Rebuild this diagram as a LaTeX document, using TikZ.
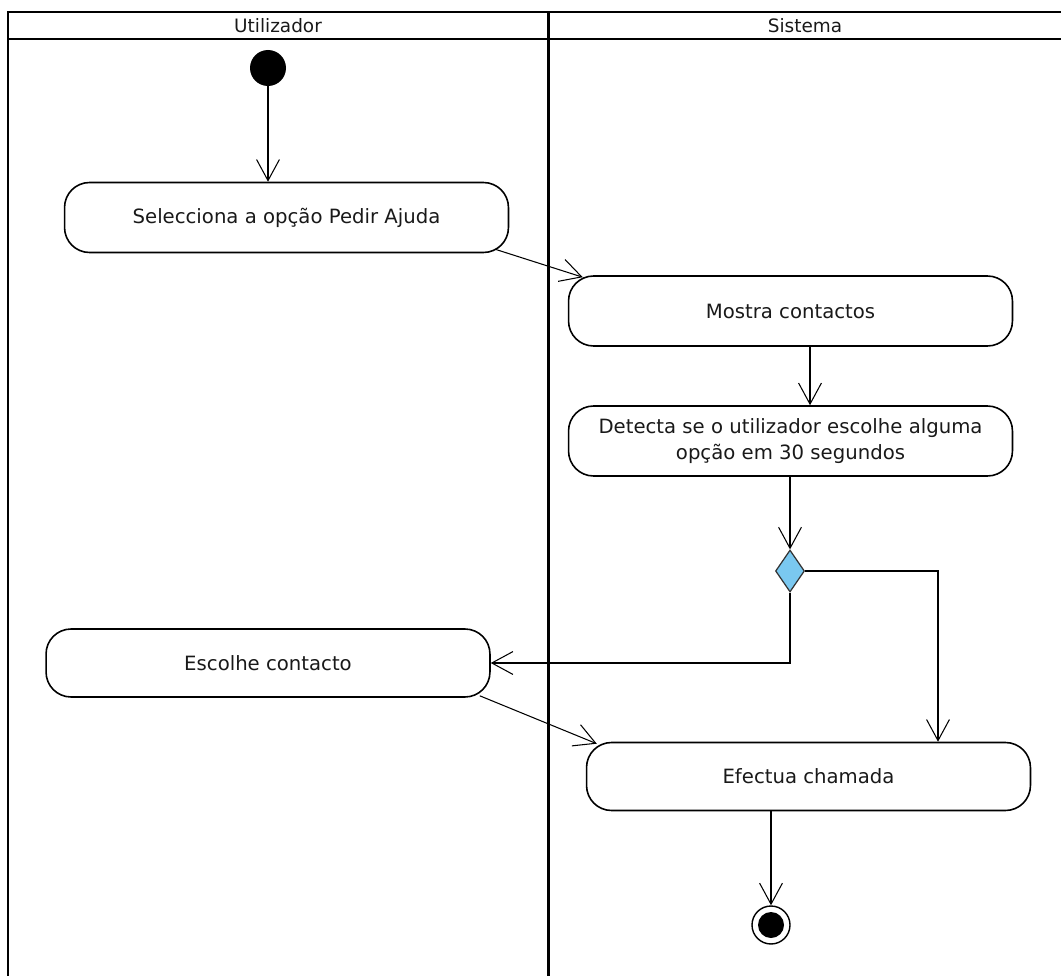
\documentclass[tikz,border=0pt]{standalone}
\usepackage{fontspec}
\setmainfont{DejaVu Sans}
\usetikzlibrary{arrows.meta,shapes.geometric,calc}
\definecolor{decfill}{RGB}{122,200,240}
\definecolor{txt}{RGB}{25,25,25}
\begin{document}
\begin{tikzpicture}[x=0.02cm,y=-0.02cm,
  lane/.style={line width=1.7pt},
  act/.style={draw, line width=0.9pt, rounded corners=0.5cm, align=center,
    minimum width=8.88cm, minimum height=1.4cm, inner sep=0pt,
    font=\fontsize{11.2}{15}\selectfont, text=txt},
  hdr/.style={font=\fontsize{10.5}{13}\selectfont, text=txt, inner sep=0pt},
  flow/.style={line width=0.6pt, -{Straight Barb[length=12pt,width=13pt,line width=0.6pt]}}]
% page frame
\path[use as bounding box] (0,0) rectangle (1061,976);

% swimlanes
\draw[lane] (1061,12) -- (8,12) -- (8,976);
\draw[lane] (8,39) -- (1061,39);
\draw[lane] (548,12) -- (548,976);
\node[hdr] (hU) at (278,26) {Utilizador};
\node[hdr] (hS) at (805,26) {Sistema};

% start and end
\node[circle, fill=black, minimum size=0.72cm, inner sep=0pt] (init) at (268,68) {};
\node[circle, draw, line width=0.8pt, minimum size=0.76cm, inner sep=0pt] (fin) at (771,925) {};
\fill (fin.center) circle[radius=13];

% actions
\node[act] (b1) at (286.5,217.5) {Selecciona a opção Pedir Ajuda};
\node[act] (b2) at (790.5,311) {Mostra contactos};
\node[act] (b3) at (790.5,441) {Detecta se o utilizador escolhe alguma\\opção em 30 segundos};
\node[act, minimum height=1.36cm] (b4) at (268,663) {Escolhe contacto};
\node[act, minimum height=1.36cm] (b5) at (808.5,776.5) {Efectua chamada};

% decision
\node[diamond, draw=black!80, fill=decfill, line width=0.7pt, inner sep=0pt,
      minimum width=0.58cm, minimum height=0.84cm] (dec) at (790,571) {};

% flows
\draw[flow] (init.south) -- (init.south |- b1.north);
\draw[flow] ($(b1.south east)+(-14,-4)$) -- ($(b2.north west)+(15,2)$);
\draw[flow] ($(b2.south)+(19.5,0)$) -- ($(b3.north)+(19.5,0)$);
\draw[flow] (b3.south -| dec.north) -- (dec.north);
\draw[flow] (dec.south) |- (b4.east);
\draw[flow] (dec.east) -| ($(b5.north)+(129.5,0)$);
\draw[flow] ($(b4.south east)+(-11,-2)$) -- ($(b5.north west)+(11,2)$);
\draw[flow] (b5.south -| fin.north) -- (fin.north);
\end{tikzpicture}
\end{document}
